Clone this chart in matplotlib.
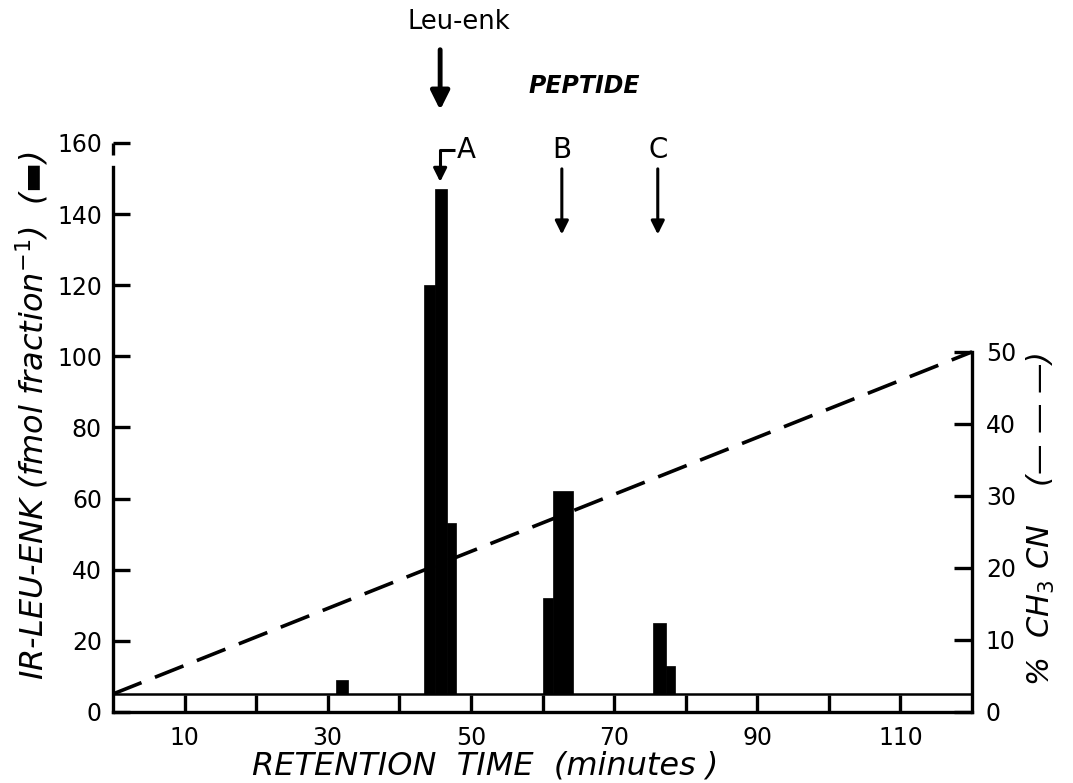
import numpy as np
import matplotlib
matplotlib.use('Agg')
import matplotlib.pyplot as plt

plt.rcParams['font.family'] = ['DejaVu Sans']

# fractions collected (start / end time, minutes) and IR-Leu-enk per fraction
frac_start = [31.1, 43.4, 45.0, 46.6, 60.1, 61.5, 75.4, 77.2]
frac_end = [32.8, 45.0, 46.6, 47.9, 61.5, 64.2, 77.2, 78.5]
ir_leu_enk = [9, 120, 147, 53, 32, 62, 25, 13]
baseline = 5

# acetonitrile gradient (% CH3CN)
grad_time = [0, 120]
grad_pct = [2.5, 50]

# peptide markers
peak_labels = ['A', 'B', 'C']
peak_times = [45.7, 62.7, 76.1]
leu_enk_time = 45.7

x_ticks = list(range(10, 120, 10))
x_labels = ['10', '', '30', '', '50', '', '70', '', '90', '', '110']
left_ticks = list(range(0, 161, 20))
right_ticks = list(range(0, 51, 10))

fig = plt.figure(figsize=(10.73, 7.83), dpi=100)
ax = fig.add_axes([0.1053, 0.0907, 0.8006, 0.7267])
ax2 = ax.twinx()

lw = 2.4
fs = 17

starts = np.array(frac_start)
widths = np.array(frac_end) - starts
heights = np.array(ir_leu_enk) - baseline
ax.bar(starts, heights, width=widths, bottom=baseline, align='edge',
       color='black', edgecolor='black', linewidth=0.5, zorder=3)
ax.axhline(baseline, color='black', lw=1.8, zorder=2)

ax.set_xlim(0, 120)
ax.set_ylim(0, 160)
ax.set_xticks(x_ticks)
ax.set_xticklabels(x_labels)
ax.set_yticks(left_ticks)
ax.tick_params(axis='both', direction='in', length=12, width=lw, labelsize=fs, pad=10)
ax.tick_params(axis='y', pad=8)

ax2.plot(grad_time, grad_pct, color='black', lw=2.6, dashes=(8.5, 4), clip_on=False)
ax2.set_ylim(0, 79)
ax2.set_yticks(right_ticks)
ax2.tick_params(axis='y', direction='in', length=13, width=lw, labelsize=fs, pad=10)

for a in (ax, ax2):
    a.spines['top'].set_visible(False)
    for s in ('left', 'right', 'bottom'):
        a.spines[s].set_linewidth(lw)
ax2.spines['right'].set_bounds(0, 50)
ax2.spines['left'].set_visible(False)
ax2.spines['bottom'].set_visible(False)
ax.spines['right'].set_visible(False)
# small break below the 160 bracket, as in the original
ax.spines['left'].set_bounds(0, 153.3)
ax.plot([0, 0], [156.6, 160], color='black', lw=lw, clip_on=False, solid_capstyle='butt')

# axis titles
fig.text(0.03, 0.47, 'IR-LEU-ENK (fmol fraction$^{-1}$)  (\u25ac)', rotation=90,
         style='italic', fontsize=23, ha='center', va='center')
fig.text(0.97, 0.337, '%  CH$_3$ CN    (\u2014 \u2014 \u2014)', rotation=90,
         style='italic', fontsize=22, ha='center', va='center')
fig.text(0.452, 0.022, 'RETENTION  TIME  (minutes )', style='italic',
         fontsize=23, ha='center', va='center')

# Leu-enk marker
ax.text(48.3, 194, 'Leu-enk', fontsize=18.5, ha='center', va='center', clip_on=False)
ax.annotate('', xy=(leu_enk_time, 168.5), xytext=(leu_enk_time, 187),
            arrowprops=dict(arrowstyle='-|>', lw=3.5, color='black', mutation_scale=28),
            annotation_clip=False)

ax.text(65.9, 176, 'PEPTIDE', fontsize=17, style='italic', fontweight='bold',
        ha='center', va='center', clip_on=False)

for lab, t in zip(peak_labels, peak_times):
    if lab == 'A':
        ax.text(t + 3.6, 158, lab, fontsize=20, ha='center', va='center', clip_on=False)
        ax.plot([t, t, t + 2.1], [152, 158, 158], color='black', lw=2.2,
                clip_on=False, solid_capstyle='butt')
        ax.annotate('', xy=(t, 148.3), xytext=(t, 153),
                    arrowprops=dict(arrowstyle='-|>', lw=2.2, color='black', mutation_scale=20),
                    annotation_clip=False)
    else:
        ax.text(t, 158, lab, fontsize=20, ha='center', va='center', clip_on=False)
        ax.annotate('', xy=(t, 133.5), xytext=(t, 153.5),
                    arrowprops=dict(arrowstyle='-|>', lw=2.2, color='black', mutation_scale=20),
                    annotation_clip=False)

fig.savefig('out.png', dpi=100)
